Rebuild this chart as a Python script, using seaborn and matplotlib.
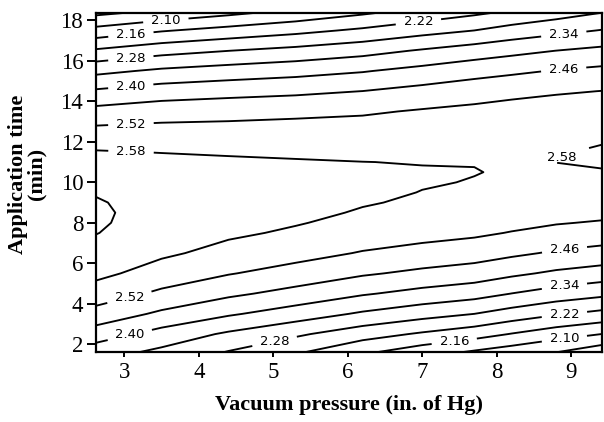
import matplotlib
matplotlib.use("Agg")
import matplotlib.pyplot as plt
import numpy as np
import pandas as pd
import seaborn as sns

# Grid of the fitted response: vacuum pressure (in. of Hg) columns, application time (min) rows
pressure = [2.62, 3.5, 4.4, 5.3, 6.2, 7.0, 7.7, 8.2, 8.8, 9.41]
app_time = [1.6, 2.5, 3.5, 4.5, 5.5, 6.5, 7.5, 8.0, 8.5, 9.0, 9.5, 10.0, 10.5,
            11.0, 11.5, 12.0, 12.5, 13.5, 14.5, 15.5, 16.5, 17.5, 18.4]
response = [
    [2.366, 2.326, 2.276, 2.2276, 2.170, 2.126, 2.091, 2.068, 2.040, 2.000],
    [2.4310, 2.3771, 2.3307, 2.2898, 2.2453, 2.2122, 2.185, 2.1573, 2.1257, 2.0997],
    [2.4982, 2.4490, 2.4074, 2.3714, 2.3318, 2.3030, 2.280, 2.2546, 2.2263, 2.2036],
    [2.5528, 2.5084, 2.4717, 2.4405, 2.4058, 2.3813, 2.363, 2.3393, 2.3143, 2.2948],
    [2.5949, 2.5552, 2.5233, 2.4970, 2.4672, 2.4470, 2.432, 2.4115, 2.3897, 2.3736],
    [2.6244, 2.5895, 2.5624, 2.5410, 2.5160, 2.5001, 2.487, 2.4712, 2.4526, 2.4397],
    [2.6413, 2.6171, 2.5890, 2.5724, 2.5523, 2.5397, 2.530, 2.5173, 2.5029, 2.4933],
    [2.6450, 2.6233, 2.6005, 2.5834, 2.5657, 2.5543, 2.5458, 2.5351, 2.5234, 2.5154],
    [2.6457, 2.6263, 2.6079, 2.5912, 2.5760, 2.5658, 2.559, 2.5498, 2.5407, 2.5344],
    [2.6431, 2.6261, 2.6102, 2.5959, 2.5832, 2.5741, 2.5683, 2.5613, 2.5548, 2.5502],
    [2.6375, 2.6228, 2.6094, 2.5975, 2.5872, 2.5792, 2.5734, 2.5697, 2.5659, 2.5629],
    [2.6287, 2.6164, 2.6054, 2.5959, 2.5880, 2.5823, 2.5788, 2.5760, 2.5737, 2.5724],
    [2.6167, 2.6069, 2.5982, 2.5912, 2.5858, 2.5822, 2.5808, 2.5775, 2.5785, 2.5788],
    [2.6016, 2.5942, 2.5879, 2.5834, 2.5803, 2.5789, 2.5792, 2.5791, 2.5801, 2.5821],
    [2.5834, 2.5783, 2.5745, 2.5724, 2.5718, 2.5725, 2.5742, 2.5760, 2.5786, 2.5822],
    [2.5620, 2.5593, 2.5580, 2.5613, 2.5631, 2.5670, 2.5706, 2.5727, 2.5739, 2.5791],
    [2.5375, 2.5412, 2.5423, 2.5470, 2.5503, 2.5583, 2.5618, 2.5682, 2.5701, 2.5750],
    [2.4791, 2.4935, 2.4994, 2.5050, 2.5122, 2.5255, 2.5350, 2.5439, 2.5510, 2.5552],
    [2.4081, 2.4293, 2.4401, 2.4485, 2.4605, 2.4782, 2.4933, 2.5031, 2.5134, 2.5209],
    [2.3246, 2.3505, 2.3661, 2.3794, 2.3963, 2.4183, 2.4382, 2.4497, 2.4633, 2.4740],
    [2.2285, 2.2592, 2.2796, 2.2978, 2.3195, 2.3459, 2.3685, 2.3837, 2.4005, 2.4146],
    [2.1198, 2.1553, 2.1806, 2.2036, 2.2302, 2.2589, 2.2803, 2.3032, 2.3233, 2.3426],
    [2.024, 2.0536, 2.0843, 2.1164, 2.150, 2.1808, 2.2082, 2.2283, 2.2531, 2.2783],
]
unlabelled_levels = [2.04, 2.64]
labelled_levels = [2.10, 2.16, 2.22, 2.28, 2.34, 2.40, 2.46, 2.52, 2.58]
x_ticks = [3, 4, 5, 6, 7, 8, 9]
y_ticks = [2, 4, 6, 8, 10, 12, 14, 16, 18]

sns.set_theme(style="ticks")
plt.rcParams["font.family"] = ["DejaVu Sans"]

grid = pd.DataFrame(response, index=app_time, columns=pressure)
gx, gy, gz = grid.columns.values, grid.index.values, grid.values

fig = plt.figure(figsize=(6.04, 4.22), dpi=100)
ax = fig.add_axes([96 / 604, 1 - 351.7 / 422, 505.7 / 604, 339 / 422])

line_style = dict(colors="black", linewidths=1.35)
ax.contour(gx, gy, gz, levels=unlabelled_levels, **line_style)

# where each contour label is attached to its line
label_spots = {
    2.10: [(3.56, 17.9), (8.91, 2.25)],
    2.16: [(3.09, 17.25), (7.43, 2.15)],
    2.22: [(6.95, 17.9), (8.91, 3.45)],
    2.28: [(3.09, 16.05), (5.02, 2.1)],
    2.34: [(8.9, 17.35), (8.91, 4.85)],
    2.40: [(3.09, 14.6), (3.09, 2.2)],
    2.46: [(8.9, 15.55), (8.91, 6.7)],
    2.52: [(3.09, 12.8), (3.09, 4.0)],
    2.58: [(3.09, 11.5), (8.95, 11.35)],
}
texts = []
for lev in labelled_levels:
    cs = ax.contour(gx, gy, gz, levels=[lev], **line_style)
    texts += ax.clabel(cs, manual=label_spots[lev], inline=True,
                       inline_spacing=8, fmt="%.2f", fontsize=9.5, colors="black")
for t in texts:
    t.set_rotation(0)
    x, y = t.get_position()
    # the label in the bend of the small 2.58 loop sits just inside the bend
    if t.get_text() == "2.58" and x > 8:
        t.set_position((8.88, 11.22))

ax.set_xlim(2.62, 9.41)
ax.set_ylim(1.63, 18.38)
ax.set_xticks(x_ticks)
ax.set_yticks(y_ticks)
for side in ["left", "right", "top", "bottom"]:
    ax.spines[side].set_linewidth(1.6)
    ax.spines[side].set_color("black")
ax.tick_params(axis="x", direction="out", length=3.3, width=1.4, pad=4,
               labelsize=16.5, labelfontfamily="Liberation Serif", colors="black")
ax.tick_params(axis="y", direction="out", length=6.2, width=1.4, pad=3,
               labelsize=16.5, labelfontfamily="Liberation Serif", colors="black")

ax.set_xlabel("Vacuum pressure (in. of Hg)", fontfamily="Liberation Serif",
              fontweight="bold", fontsize=16, color="black")
ax.xaxis.set_label_coords(0.5, -0.128)
ax.set_ylabel("Application time\n(min)", fontfamily="Liberation Serif",
              fontweight="bold", fontsize=16, color="black", linespacing=0.95)
ax.yaxis.label.set_va("center")
ax.yaxis.set_label_coords(-0.136, 0.524)

fig.savefig("out.png", dpi=100, facecolor="white")
